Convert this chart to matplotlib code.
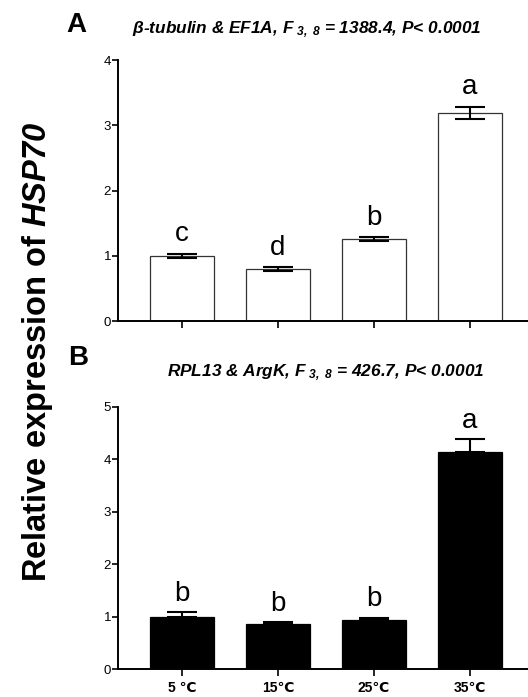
import matplotlib
matplotlib.use("Agg")
import matplotlib.pyplot as plt
import numpy as np

plt.rcParams['font.family'] = ['Liberation Sans', 'DejaVu Sans']
plt.rcParams['mathtext.fontset'] = 'custom'
plt.rcParams['mathtext.rm'] = 'Liberation Sans:bold:italic'
plt.rcParams['mathtext.it'] = 'Liberation Sans:bold:italic'
plt.rcParams['mathtext.bf'] = 'Liberation Sans:bold:italic'

categories = ["5 \u2103", "15\u2103", "25\u2103", "35\u2103"]
a_values = [1.00, 0.79, 1.25, 3.19]
a_errors = [0.03, 0.03, 0.03, 0.09]
a_letters = ["c", "d", "b", "a"]
b_values = [1.00, 0.85, 0.93, 4.13]
b_errors = [0.09, 0.05, 0.05, 0.25]
b_letters = ["b", "b", "b", "a"]

W, H = 528, 697
fig = plt.figure(figsize=(W/100, H/100), dpi=100)

def px_axes(left, top, right, bottom):
    return fig.add_axes([left/W, 1-bottom/H, (right-left)/W, (bottom-top)/H])

axA = px_axes(118, 60, 528, 321)
axB = px_axes(118, 406.7, 528, 669)

x = np.arange(len(categories))

def style(ax, ymax):
    ax.set_xlim(-0.667, 3.604)
    ax.set_ylim(0, ymax)
    ax.set_yticks(range(0, ymax+1))
    for s in ['top', 'right']:
        ax.spines[s].set_visible(False)
    for s in ['left', 'bottom']:
        ax.spines[s].set_linewidth(1.4)
    ax.tick_params(axis='y', direction='out', length=4, width=1.2, labelsize=9.5, pad=1)
    ax.tick_params(axis='x', direction='out', length=5, width=1.2)
    ax.set_xticks(x)

# Panel A
axA.bar(x, a_values, width=0.667, color='white', edgecolor='#333333', linewidth=0.9, zorder=2)
axA.errorbar(x, a_values, yerr=a_errors, fmt='none', ecolor='black', elinewidth=1.5,
             capsize=11, capthick=1.5, zorder=3)
style(axA, 4)
axA.set_xticklabels([])
for xi, v, e, t in zip(x, a_values, a_errors, a_letters):
    axA.annotate(t, (xi, v+e), xytext=(0, 9), textcoords='offset points',
                 ha='center', va='baseline', fontsize=20)

# Panel B
axB.bar(x, b_values, width=0.667, color='black', edgecolor='black', linewidth=0.9, zorder=2)
axB.errorbar(x, b_values, yerr=[np.zeros(4), b_errors], fmt='none', ecolor='black', elinewidth=1.5,
             capsize=11, capthick=1.5, zorder=3)
style(axB, 5)
axB.set_xticklabels(categories, fontsize=10, fontweight='bold')
for xi, v, e, t in zip(x, b_values, b_errors, b_letters):
    axB.annotate(t, (xi, v+e), xytext=(0, 8), textcoords='offset points',
                 ha='center', va='baseline', fontsize=20)

fig.text(66/W, 1-25/H, "A", fontsize=20, fontweight='bold', ha='left', va='center')
fig.text(68/W, 1-358/H, "B", fontsize=20, fontweight='bold', ha='left', va='center')

fig.text(132/W, 1-30/H, "\u03b2-tubulin & EF1A, F$_{\\ 3,\\ 8}$ = 1388.4, P< 0.0001",
         fontsize=12.4, fontweight='bold', fontstyle='italic', ha='left', va='center')
fig.text(167/W, 1-373/H, "RPL13 & ArgK, F$_{\\ 3,\\ 8}$ = 426.7, P< 0.0001",
         fontsize=12.4, fontweight='bold', fontstyle='italic', ha='left', va='center')

fig.text(38/W, 1-352/H, "Relative expression of $HSP70$", rotation=90,
         fontsize=23.5, fontweight='bold', ha='center', va='center')

fig.savefig("out.png", dpi=100)
